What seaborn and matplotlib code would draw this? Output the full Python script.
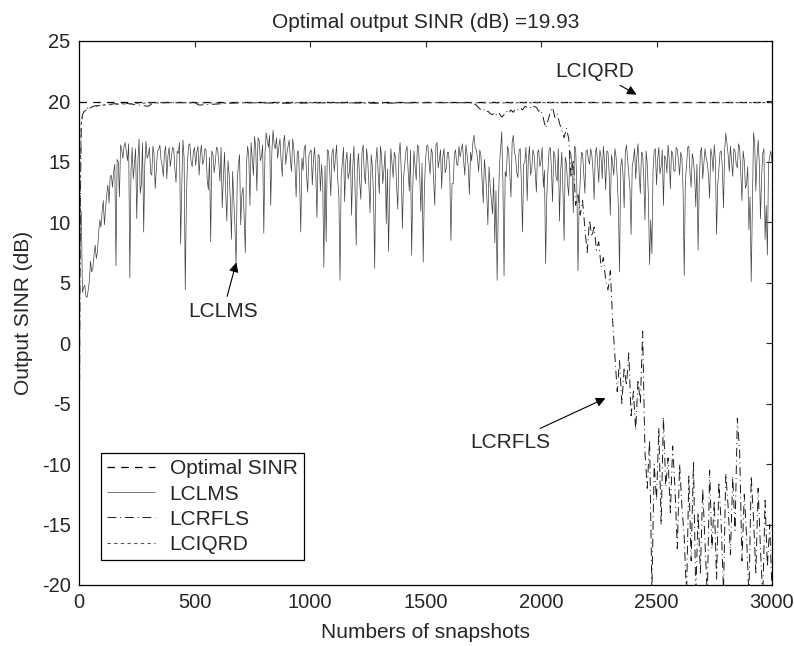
import numpy as np
import matplotlib
matplotlib.use("Agg")
import matplotlib.pyplot as plt
import seaborn as sns

# Optimal SINR value (dB)
optimal_sinr = 19.93

# LCLMS output SINR at snapshots 0, 10, 20, ... 3000
lclms_sinr = [
    0.0, 10.8, 4.6, 3.9, 4.4, 6.8, 6.2, 8.1, 7.6, 10.2, 10.9, 9.8, 12.3, 11.6, 13.9, 14.2, 6.4, 15.0, 16.4, 15.3,
    16.6, 15.1, 5.4, 16.2, 14.8, 10.3, 16.9, 13.2, 9.2, 16.7, 15.6, 14.1, 16.3, 12.8, 15.9, 16.4, 14.7, 15.8, 13.6, 16.2,
    15.4, 16.1, 13.3, 15.7, 8.2, 16.8, 4.4, 15.2, 16.5, 14.6, 16.2, 15.8, 13.9, 16.4, 15.1, 16.0, 12.7, 8.4, 15.6, 14.9,
    16.1, 13.4, 11.2, 15.8, 10.1, 13.9, 8.6, 11.8, 6.5, 14.7, 9.8, 12.9, 7.5, 16.3, 11.4, 15.2, 17.1, 12.6, 16.8, 15.4,
    9.1, 17.4, 16.2, 11.4, 17.6, 16.1, 15.3, 16.9, 13.8, 17.2, 15.7, 16.8, 14.2, 16.1, 12.1, 15.9, 9.2, 14.3, 16.4, 12.5,
    15.8, 13.1, 16.2, 10.4, 15.5, 14.8, 6.3, 8.4, 15.9, 12.2, 16.1, 15.3, 13.6, 5.2, 14.9, 11.7, 15.8, 14.1, 10.6, 16.3,
    8.1, 15.7, 11.9, 16.4, 13.2, 15.1, 10.8, 14.6, 6.2, 16.2, 12.4, 15.5, 14.3, 9.9, 7.6, 16.1, 13.7, 15.4, 11.1, 16.6,
    9.5, 14.8, 16.3, 12.6, 7.3, 15.9, 13.5, 16.2, 10.9, 6.7, 15.1, 16.4, 14.0, 15.7, 11.4, 16.6, 15.2, 12.8, 16.1, 14.5,
    15.8, 8.5, 13.2, 16.0, 14.7, 15.4, 16.5, 13.9, 15.6, 12.3, 15.1, 17.2, 16.0, 14.2, 15.5, 11.6, 14.1, 9.8, 13.0, 10.7,
    8.3, 5.2, 14.6, 17.5, 5.6, 13.8, 15.9, 12.1, 17.2, 15.4, 13.7, 16.1, 9.2, 15.0, 11.8, 16.3, 14.4, 15.6, 12.5, 16.0,
    15.1, 12.9, 6.6, 14.3, 16.2, 11.7, 15.5, 13.4, 10.1, 15.8, 8.5, 14.9, 12.2, 15.6, 10.8, 16.1, 6.0, 13.5, 15.7, 12.4,
    16.0, 14.8, 15.6, 11.9, 16.2, 13.3, 15.4, 16.3, 12.7, 15.8, 10.6, 14.9, 16.1, 13.8, 5.9, 15.3, 11.2, 16.4, 14.0, 9.0,
    15.2, 13.6, 16.5, 12.4, 15.7, 10.2, 14.8, 6.5, 7.4, 15.9, 13.1, 16.2, 14.6, 11.4, 15.3, 16.4, 12.8, 15.7, 14.2, 16.0,
    13.9, 15.4, 5.6, 14.7, 16.3, 12.9, 15.1, 11.3, 7.7, 15.8, 13.6, 16.1, 14.9, 12.0, 15.5, 16.4, 9.0, 14.3, 15.9, 11.2,
    17.4, 15.6, 16.3, 13.8, 15.9, 14.5, 16.2, 11.8, 15.1, 13.2, 9.4, 5.1, 17.4, 12.6, 16.8, 10.3, 15.7, 8.6, 7.3, 15.4,
    15.0,
]

# LCLMS output SINR at the in-between snapshots 5, 15, 25, ... 2995
lclms_sinr_mid = [
    11.2, 4.2, 4.8, 3.8, 5.2, 5.9, 7.3, 7.0, 9.1, 9.6, 11.8, 11.2, 13.1, 13.8, 12.9, 14.8, 15.2, 12.1, 16.0, 16.3,
    15.8, 16.5, 14.2, 13.6, 16.1, 15.0, 12.4, 16.6, 14.9, 15.3, 16.2, 13.9, 15.6, 14.5, 16.0, 15.2, 13.8, 16.3, 15.5, 14.6,
    16.2, 14.4, 15.9, 16.6, 13.1, 15.3, 12.0, 16.4, 15.0, 15.8, 14.7, 16.3, 15.6, 14.8, 16.1, 13.5, 15.4, 15.9, 14.1, 16.2,
    15.0, 16.2, 13.7, 12.4, 15.1, 11.9, 14.2, 9.6, 13.5, 15.6, 12.3, 10.4, 14.8, 15.5, 16.6, 13.9, 16.2, 17.0, 15.1, 16.4,
    15.6, 16.8, 17.2, 15.9, 16.4, 17.0, 16.2, 15.1, 16.6, 14.8, 16.3, 15.2, 16.9, 14.6, 15.8, 13.4, 15.3, 16.1, 13.9, 15.5,
    16.0, 15.2, 14.1, 15.6, 12.6, 13.2, 14.7, 16.0, 14.4, 15.7, 14.2, 16.4, 12.1, 13.8, 16.2, 15.0, 13.6, 15.7, 14.5, 12.9,
    14.6, 13.4, 15.8, 14.0, 16.1, 13.1, 15.6, 12.2, 15.0, 14.1, 16.3, 13.2, 15.9, 14.4, 12.8, 14.9, 15.8, 13.0, 15.6, 14.3,
    13.6, 15.9, 14.2, 16.0, 12.9, 14.6, 16.4, 13.8, 14.9, 12.6, 16.3, 15.0, 16.1, 13.6, 16.4, 14.5, 16.0, 15.4, 14.1, 15.8,
    14.1, 13.2, 15.6, 14.8, 16.3, 16.0, 15.1, 16.4, 14.6, 15.8, 16.6, 16.2, 15.3, 16.0, 13.6, 15.2, 12.4, 14.6, 11.9, 13.7,
    12.6, 11.0, 16.1, 13.4, 14.2, 16.3, 14.0, 16.6, 15.8, 14.1, 15.9, 13.3, 14.8, 16.2, 15.1, 13.9, 16.0, 14.2, 15.8, 14.6,
    16.2, 14.3, 12.1, 16.0, 14.5, 15.9, 13.8, 16.1, 14.2, 12.6, 15.4, 13.2, 15.9, 14.0, 16.3, 13.1, 11.4, 15.8, 14.1, 15.9,
    15.2, 16.1, 14.3, 15.7, 14.9, 16.0, 13.6, 15.1, 15.9, 14.0, 15.6, 13.9, 15.4, 11.2, 14.6, 13.9, 15.8, 15.2, 12.8, 14.7,
    16.1, 15.4, 14.0, 15.8, 13.6, 15.9, 12.1, 10.2, 14.3, 16.1, 15.2, 14.0, 16.0, 15.5, 14.1, 15.2, 15.9, 14.3, 16.2, 15.1,
    15.8, 12.7, 13.5, 16.2, 14.1, 15.7, 13.9, 14.8, 13.2, 16.2, 14.8, 15.3, 13.9, 16.1, 14.2, 15.1, 13.1, 15.8, 14.6, 15.9,
    16.5, 14.2, 15.0, 16.1, 14.8, 16.5, 14.0, 15.9, 12.8, 14.6, 12.1, 11.3, 16.6, 15.3, 14.9, 13.8, 16.1, 11.4, 14.8, 15.9,
]

# LCRFLS: converged part (sparse snapshots) then the breakdown (every 10 snapshots from 1700)
rfls_snap_early = [0, 3, 6, 10, 15, 25, 40, 60, 100, 150, 200, 300, 320, 340, 500, 520, 700, 900,
                   1100, 1300, 1500, 1690]
rfls_sinr_early = [-22.0, 0.0, 12.0, 18.0, 18.9, 19.3, 19.5, 19.6, 19.7, 19.8, 19.85, 19.6, 19.85, 19.9,
                   19.9, 19.7, 19.9, 19.85, 19.9, 19.85, 19.9, 19.9]
rfls_sinr_late = [
    19.9, 19.8, 19.7, 19.5, 19.3, 19.4, 19.1, 19.2, 19.0, 18.9,
    19.1, 18.8, 19.0, 18.7, 18.9, 19.2, 19.0, 19.3, 19.1, 19.4,
    19.3, 19.5, 19.3, 19.6, 19.5, 19.6, 19.4, 19.6, 19.5, 19.2,
    19.3, 18.6, 17.8, 18.4, 19.1, 19.5, 18.7, 19.0, 18.2, 17.6,
    17.0, 17.8, 16.9, 13.7, 15.2, 11.4, 12.4, 10.6, 11.8, 9.5,
    7.5, 10.2, 8.8, 9.6, 7.7, 8.4, 6.3, 7.1, 5.2, 4.4,
    6.0, 1.9, -1.0, -4.0, -1.4, -5.0, -2.0, -3.5, -0.8, -6.0,
    -4.0, -7.2, -3.0, -5.0, 1.0, -9.0, -12.0, -8.0, -20.5, -10.0,
    -13.0, -7.0, -15.0, -6.1, -11.9, -9.5, -14.0, -8.5, -12.0, -17.0,
    -10.0, -13.5, -16.0, -21.0, -11.0, -18.0, -9.8, -21.0, -14.0, -19.0,
    -12.0, -16.5, -21.0, -10.5, -17.0, -13.0, -19.5, -11.5, -15.0, -20.5,
    -10.8, -13.5, -17.5, -11.0, -15.5, -6.2, -9.0, -18.0, -12.5, -16.0,
    -21.0, -11.0, -14.5, -19.0, -12.0, -17.0, -21.0, -13.0, -18.5, -15.0,
    -20.5,
]

# LCIQRD stays near the optimum
iqrd_snap = [0, 3, 6, 10, 15, 25, 40, 60, 100, 150, 250, 400, 600, 800, 1000, 1200, 1400,
             1600, 1800, 2000, 2200, 2400, 2600, 2800, 3000]
iqrd_sinr = [-20.0, 5.0, 15.0, 18.2, 18.8, 19.2, 19.4, 19.55, 19.7, 19.75, 19.85, 19.9, 19.88,
             19.9, 19.9, 19.88, 19.9, 19.9, 19.88, 19.9, 19.9, 19.88, 19.9, 19.9, 19.9]

lclms_snap = np.concatenate([np.arange(len(lclms_sinr)) * 10,
                             5 + np.arange(len(lclms_sinr_mid)) * 10])
lclms_all = np.concatenate([lclms_sinr, lclms_sinr_mid])
rfls_snap = np.concatenate([rfls_snap_early, 1700 + np.arange(len(rfls_sinr_late)) * 10])
rfls_sinr = rfls_sinr_early + rfls_sinr_late

sns.set_style("white")
plt.rcParams["font.family"] = ["Liberation Sans", "DejaVu Sans"]
plt.rcParams["axes.unicode_minus"] = False

fig = plt.figure(figsize=(7.94, 6.46), dpi=100)
ax = fig.add_axes([79 / 794, 61 / 646, 693 / 794, 544 / 646])

ax.plot([0, 3000], [optimal_sinr, optimal_sinr], color="black", lw=0.9,
        dashes=(6, 5), label="Optimal SINR")
sns.lineplot(x=lclms_snap, y=lclms_all, ax=ax, color="#404040", lw=0.5,
             label="LCLMS")
sns.lineplot(x=rfls_snap, y=rfls_sinr, ax=ax, color="#1a1a1a", lw=0.7,
             dashes=(9, 4, 1, 4), label="LCRFLS", sort=False)
sns.lineplot(x=iqrd_snap, y=iqrd_sinr, ax=ax, color="#555555", lw=0.8,
             dashes=(3, 3), label="LCIQRD", sort=False)

ax.set_xlim(0, 3000)
ax.set_ylim(-20, 25)
ax.set_xticks(range(0, 3001, 500))
ax.set_yticks(range(-20, 26, 5))
ax.tick_params(direction="in", top=True, right=True, labelsize=14.5, length=4, width=0.8, pad=6)
for sp in ax.spines.values():
    sp.set_color("black")
    sp.set_linewidth(0.9)

ax.set_title("Optimal output SINR (dB) =19.93", fontsize=15, pad=9)
ax.set_xlabel("Numbers of snapshots", fontsize=15, labelpad=8)
ax.set_ylabel("Output SINR (dB)", fontsize=15, labelpad=6)

arrow = dict(arrowstyle="-|>", color="black", lw=0.8, mutation_scale=14)
ax.annotate("LCIQRD", xy=(2424, 20.45), xytext=(2234, 22.5), fontsize=15,
            ha="center", va="center", arrowprops=arrow)
ax.annotate("LCLMS", xy=(684, 6.9), xytext=(623, 2.6), fontsize=15,
            ha="center", va="center", arrowprops=arrow)
ax.annotate("LCRFLS", xy=(2290, -4.45), xytext=(1866, -8.2), fontsize=15,
            ha="center", va="center", arrowprops=arrow)

leg = ax.legend(loc="upper left", bbox_to_anchor=(0.0317, 0.2426), borderaxespad=0,
                fontsize=15, frameon=True, fancybox=False, framealpha=1,
                edgecolor="black", handlelength=2.3, labelspacing=0.3,
                borderpad=0.3, handletextpad=0.7)
leg.get_frame().set_linewidth(0.9)

fig.savefig("out.png", dpi=100)
